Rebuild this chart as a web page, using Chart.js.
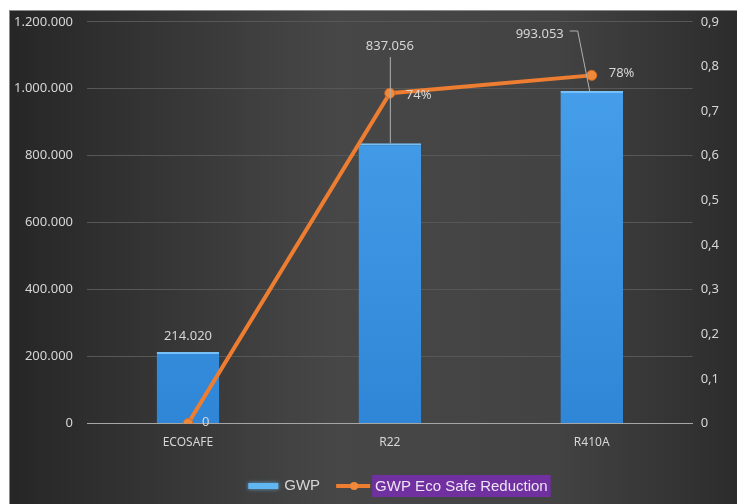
<!DOCTYPE html>
<html lang="en">
<head>
  <meta charset="UTF-8" />
  <title>GWP Eco Safe Reduction</title>
  <script src="https://cdn.jsdelivr.net/npm/chart.js"></script>
  <style>
    html, body { margin: 0; padding: 0; background: #fff; }
    #wrap { width: 737px; height: 504px; }
  </style>
</head>
<body>
  <div id="wrap"><canvas id="gwpChart" width="737" height="504"></canvas></div>

  <script>
    const categories = ['ECOSAFE', 'R22', 'R410A'];
    const gwpValues = [214020, 837056, 993053];
    const reductionValues = [0, 0.74, 0.78];
    const reductionLabels = ['0', '74%', '78%'];
    const gwpLabels = ['214.020', '837.056', '993.053'];

    const labelFont = '13px "Noto Sans", sans-serif';
    const textColor = '#d6d6d6';

    // dotted thousands, comma decimals
    const fmtThousands = v => String(Math.round(v)).replace(/\B(?=(\d{3})+(?!\d))/g, '.');
    const fmtDecimal = v => (Math.round(v * 10) / 10).toString().replace('.', ',');

    const backgroundPlugin = {
      id: 'darkBg',
      beforeDraw(chart) {
        const ctx = chart.ctx;
        const w = chart.width, h = chart.height;
        ctx.save();
        ctx.fillStyle = '#ffffff';
        ctx.fillRect(0, 0, w, h);
        const g = ctx.createLinearGradient(9, 0, w, 0);
        g.addColorStop(0, '#262626');
        g.addColorStop(0.45, '#474747');
        g.addColorStop(0.75, '#434343');
        g.addColorStop(1, '#2c2c2c');
        ctx.fillStyle = g;
        ctx.fillRect(9, 10, w - 9, h - 10);
        ctx.fillStyle = '#8a8a8a';
        ctx.fillRect(9, 10, w - 9, 1);
        ctx.fillRect(9, 10, 1, h - 10);
        ctx.restore();
      }
    };

    const labelsPlugin = {
      id: 'valueLabels',
      afterDatasetsDraw(chart) {
        const ctx = chart.ctx;
        const bars = chart.getDatasetMeta(1).data;
        const pts = chart.getDatasetMeta(0).data;
        ctx.save();
        ctx.font = labelFont;
        ctx.fillStyle = textColor;
        ctx.strokeStyle = '#b0b0b0';
        ctx.lineWidth = 1;

        // bar labels
        ctx.textAlign = 'center';
        ctx.textBaseline = 'middle';
        // ECOSAFE: just above bar
        ctx.fillText(gwpLabels[0], bars[0].x, bars[0].y - 16);
        // R22: raised with a leader line
        const ly1 = 46;
        ctx.fillText(gwpLabels[1], bars[1].x, ly1);
        ctx.beginPath();
        ctx.moveTo(bars[1].x + 0.5, ly1 + 11);
        ctx.lineTo(bars[1].x + 0.5, bars[1].y);
        ctx.stroke();
        // R410A: to the left with an angled leader
        const lx2 = bars[2].x - 52, ly2 = 34;
        ctx.fillText(gwpLabels[2], lx2, ly2);
        ctx.beginPath();
        ctx.moveTo(lx2 + 30, ly2 - 3);
        ctx.lineTo(lx2 + 38, ly2 - 3);
        ctx.lineTo(bars[2].x - 2, bars[2].y);
        ctx.stroke();

        // line labels
        ctx.textAlign = 'left';
        ctx.fillText(reductionLabels[0], pts[0].x + 14, pts[0].y - 1);
        ctx.fillText(reductionLabels[1], pts[1].x + 16, pts[1].y + 2);
        ctx.fillText(reductionLabels[2], pts[2].x + 17, pts[2].y - 2);
        ctx.restore();
      }
    };

    const legendPlugin = {
      id: 'customLegend',
      afterDraw(chart) {
        const ctx = chart.ctx;
        const y = 486;
        ctx.save();
        ctx.font = '15px "Liberation Sans", Arial, sans-serif';
        const t1 = 'GWP', t2 = 'GWP Eco Safe Reduction';
        const w1 = ctx.measureText(t1).width, w2 = ctx.measureText(t2).width;
        const total = 30 + 6 + w1 + 20 + 36 + w2 + 8;
        let x = (chart.width - total) / 2 + 34;

        // bar swatch
        ctx.fillStyle = '#5fb6f0';
        ctx.shadowColor = 'rgba(120,200,255,0.7)';
        ctx.shadowBlur = 4;
        ctx.fillRect(x, y - 3, 30, 6);
        ctx.shadowBlur = 0;
        x += 36;
        ctx.fillStyle = textColor;
        ctx.textBaseline = 'middle';
        ctx.fillText(t1, x, y);
        x += w1 + 16;

        // line swatch
        ctx.strokeStyle = '#ed7d31';
        ctx.lineWidth = 4;
        ctx.beginPath();
        ctx.moveTo(x, y);
        ctx.lineTo(x + 34, y);
        ctx.stroke();
        ctx.fillStyle = '#f08a3a';
        ctx.beginPath();
        ctx.arc(x + 18, y, 4, 0, Math.PI * 2);
        ctx.fill();
        x += 36;

        // highlighted text
        ctx.fillStyle = '#7030a0';
        ctx.fillRect(x, y - 11, w2 + 6, 22);
        ctx.fillStyle = '#ece4f4';
        ctx.fillText(t2, x + 3, y + 1);
        ctx.restore();
      }
    };

    new Chart(document.getElementById('gwpChart'), {
      data: {
        labels: categories,
        datasets: [
          {
            type: 'line',
            label: 'GWP Eco Safe Reduction',
            data: reductionValues,
            yAxisID: 'y1',
            borderColor: '#ed7d31',
            borderWidth: 4,
            pointRadius: 5,
            pointBackgroundColor: '#f08a3a',
            pointBorderColor: '#d96a1e',
            pointBorderWidth: 1,
            tension: 0,
            order: 0
          },
          {
            type: 'bar',
            label: 'GWP',
            data: gwpValues,
            yAxisID: 'y',
            backgroundColor: (c) => {
              const a = c.chart.chartArea;
              if (!a) return '#3f93e0';
              const g = c.chart.ctx.createLinearGradient(0, a.top, 0, a.bottom);
              g.addColorStop(0, '#4aa3ee');
              g.addColorStop(1, '#2f86d6');
              return g;
            },
            borderColor: '#77c0f7',
            borderWidth: { top: 2, left: 0, right: 0, bottom: 0 },
            barPercentage: 0.62,
            categoryPercentage: 0.5,
            order: 1
          }
        ]
      },
      options: {
        responsive: false,
        animation: false,
        layout: { padding: { left: 0, right: 10, top: 11, bottom: 42 } },
        plugins: {
          legend: { display: false },
          tooltip: { enabled: false }
        },
        scales: {
          x: {
            grid: { display: false, drawTicks: false },
            border: { color: '#a6a6a6', width: 1 },
            ticks: {
              color: textColor,
              font: { family: '"Noto Sans", sans-serif', size: 12 },
              padding: 12
            }
          },
          y: {
            position: 'left',
            min: 0,
            max: 1200000,
            grid: { color: '#575757', drawTicks: false },
            border: { display: false },
            ticks: {
              stepSize: 200000,
              color: textColor,
              font: { family: '"Noto Sans", sans-serif', size: 13 },
              padding: 14,
              callback: v => fmtThousands(v)
            }
          },
          y1: {
            position: 'right',
            min: 0,
            max: 0.9,
            grid: { display: false, drawTicks: false },
            border: { display: false },
            ticks: {
              stepSize: 0.1,
              color: textColor,
              font: { family: '"Noto Sans", sans-serif', size: 13 },
              padding: 8,
              callback: v => fmtDecimal(v)
            }
          }
        }
      },
      plugins: [backgroundPlugin, labelsPlugin, legendPlugin]
    });
  </script>
</body>
</html>
